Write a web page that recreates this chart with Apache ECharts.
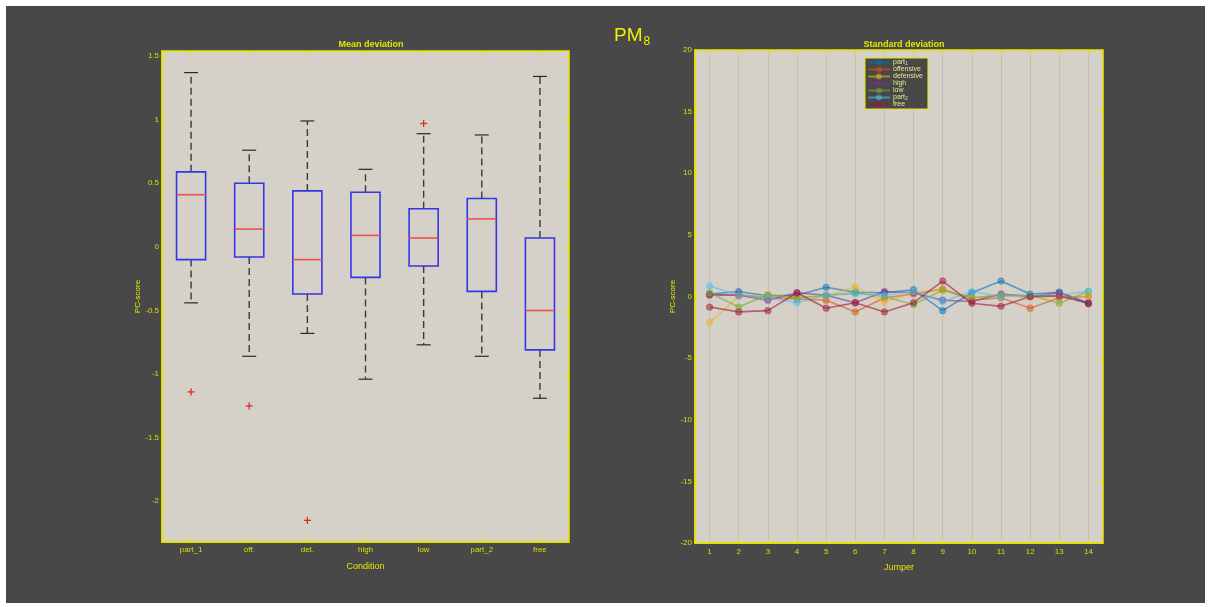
<!DOCTYPE html>
<html>
<head>
<meta charset="utf-8">
<script src="https://cdn.jsdelivr.net/npm/echarts@6/dist/echarts.min.js"></script>
<style>
html,body{margin:0;padding:0;background:#ffffff;}
#c{position:absolute;left:6px;top:6px;width:1199px;height:597px;}
</style>
</head>
<body>
<div id="c"></div>
<script>
// ---- Left panel: box plot data (Mean deviation) ----
const conditions = ['part_1', 'off.', 'det.', 'high', 'low', 'part_2', 'free'];
const whiskerLow  = [-0.44, -0.86, -0.68, -1.04, -0.77, -0.86, -1.19];
const quart1      = [-0.10, -0.08, -0.37, -0.24, -0.15, -0.35, -0.81];
const medians     = [ 0.41,  0.14, -0.10,  0.09,  0.07,  0.22, -0.50];
const quart3      = [ 0.59,  0.50,  0.44,  0.43,  0.30,  0.38,  0.07];
const whiskerHigh = [ 1.37,  0.76,  0.99,  0.61,  0.89,  0.88,  1.34];
const outlierCond = [0, 1, 2, 4];
const outlierVal  = [-1.14, -1.25, -2.15, 0.97];
const leftYTicks  = [-2, -1.5, -1, -0.5, 0, 0.5, 1, 1.5];

// ---- Right panel: standard deviation per jumper ----
const jumpers = [1,2,3,4,5,6,7,8,9,10,11,12,13,14];
const seriesNames = ['part_1','offensive','defensive','high','low','part_2','free'];
const sdPart1     = [ 0.20,  0.40,  0.05,  0.10,  0.75,  0.35,  0.30,  0.55, -1.15,  0.30,  1.25,  0.20,  0.35, -0.50];
const sdOffensive = [ 0.10,  0.15, -0.10, -0.20, -0.30, -1.25, -0.10,  0.20,  0.60, -0.30, -0.10, -0.95, -0.10,  0.00];
const sdDefensive = [-2.10,  0.00,  0.10, -0.10,  0.00,  0.80, -0.45,  0.30,  0.55, -0.10,  0.10, -0.10,  0.00,  0.00];
const sdHigh      = [ 0.15,  0.10, -0.30,  0.30,  0.10, -0.50,  0.40,  0.30, -0.30, -0.40,  0.20,  0.00,  0.30, -0.60];
const sdLow       = [ 0.30, -0.85,  0.15, -0.10,  0.10,  0.30,  0.00, -0.65,  0.50, -0.10,  0.10,  0.10, -0.55,  0.40];
const sdPart2     = [ 0.85,  0.10, -0.10, -0.50,  0.10,  0.20,  0.10,  0.40, -0.40,  0.40,  0.00,  0.10,  0.10,  0.45];
const sdFree      = [-0.85, -1.25, -1.15,  0.30, -0.95, -0.50, -1.25, -0.50,  1.25, -0.55, -0.80,  0.00,  0.05, -0.55];
const sdValues = [sdPart1, sdOffensive, sdDefensive, sdHigh, sdLow, sdPart2, sdFree];
const lineColors = ['#0072BD','#D95319','#EDB120','#7E2F8E','#77AC30','#4DBEEE','#A2142F'];

const YEL = '#e6e600';
const TXT = '#dede00';
const FONT = '"Liberation Sans", Arial, sans-serif';

const boxData = conditions.map((c, i) => [i, whiskerLow[i], quart1[i], medians[i], quart3[i], whiskerHigh[i]]);
const outData = outlierCond.map((c, i) => [c, outlierVal[i]]);

function renderBox(params, api) {
  const i = api.value(0);
  const lo = api.value(1), q1 = api.value(2), med = api.value(3), q3 = api.value(4), hi = api.value(5);
  const band = api.size([1, 0])[0];
  const hw = band * 0.25, cw = band * 0.12;
  const x = api.coord([i, med])[0];
  const y = v => api.coord([i, v])[1];
  const dash = {stroke: '#3a3a3a', lineWidth: 1.4, lineDash: [7, 4]};
  const solid = {stroke: '#2a2a2a', lineWidth: 1.2};
  return {
    type: 'group',
    children: [
      {type: 'line', shape: {x1: x, y1: y(q3), x2: x, y2: y(hi)}, style: dash},
      {type: 'line', shape: {x1: x, y1: y(q1), x2: x, y2: y(lo)}, style: dash},
      {type: 'line', shape: {x1: x - cw, y1: y(hi), x2: x + cw, y2: y(hi)}, style: solid},
      {type: 'line', shape: {x1: x - cw, y1: y(lo), x2: x + cw, y2: y(lo)}, style: solid},
      {type: 'rect', shape: {x: x - hw, y: y(q3), width: 2 * hw, height: y(q1) - y(q3)},
        style: {fill: 'none', stroke: '#3535e8', lineWidth: 1.6}},
      {type: 'line', shape: {x1: x - hw, y1: y(med), x2: x + hw, y2: y(med)},
        style: {stroke: '#ec5050', lineWidth: 1.6}}
    ]
  };
}
function renderPlus(params, api) {
  const p = api.coord([api.value(0), api.value(1)]);
  const s = 3.5;
  const st = {stroke: '#e02828', lineWidth: 1.3};
  return {type: 'group', children: [
    {type: 'line', shape: {x1: p[0] - s, y1: p[1], x2: p[0] + s, y2: p[1]}, style: st},
    {type: 'line', shape: {x1: p[0], y1: p[1] - s, x2: p[0], y2: p[1] + s}, style: st}
  ]};
}

const tickStyle = {show: true, inside: true, length: 4, lineStyle: {color: YEL, width: 1}};
const labelStyle = {color: TXT, fontSize: 8, fontFamily: FONT};
const mainLine = {show: true, onZero: false, lineStyle: {color: YEL, width: 1.5}};

const lineSeries = seriesNames.map((n, k) => ({
  name: n, type: 'line', xAxisIndex: 2, yAxisIndex: 2,
  data: jumpers.map((j, i) => [j, sdValues[k][i]]),
  symbol: 'circle', symbolSize: 6,
  lineStyle: {color: lineColors[k], width: 1.6, opacity: 0.6},
  itemStyle: {color: lineColors[k], borderColor: lineColors[k], borderWidth: 1.2, opacity: 0.45},
  emphasis: {disabled: true},
  animation: false
}));

const chart = echarts.init(document.getElementById('c'), null, {renderer: 'canvas'});
chart.setOption({
  backgroundColor: '#484848',
  animation: false,
  textStyle: {fontFamily: FONT},
  title: [
    {text: 'PM{s|8}', left: 603, top: 13,
      textStyle: {color: '#f0f000', fontSize: 19, fontWeight: 'normal', fontFamily: FONT,
        rich: {s: {fontSize: 12, color: '#f0f000', fontFamily: FONT, verticalAlign: 'bottom', padding: [12, 0, 0, 1]}}}},
    {text: 'Mean deviation', left: 360, top: 29, textAlign: 'center',
      textStyle: {color: YEL, fontSize: 9, fontWeight: 'bold', fontFamily: FONT}},
    {text: 'Standard deviation', left: 893, top: 29, textAlign: 'center',
      textStyle: {color: YEL, fontSize: 9, fontWeight: 'bold', fontFamily: FONT}}
  ],
  legend: {
    data: seriesNames,
    orient: 'vertical', left: 859, top: 52,
    backgroundColor: '#484848', borderColor: YEL, borderWidth: 1,
    padding: [1, 5, 1, 2], itemGap: 0, itemWidth: 22, itemHeight: 5,
    selectedMode: false,
    formatter: n => n === 'part_1' ? 'part{s|1}' : (n === 'part_2' ? 'part{s|2}' : n),
    textStyle: {color: '#e8e890', fontSize: 7, lineHeight: 7, fontFamily: FONT, padding: [0, 0, 0, -2],
      rich: {s: {fontSize: 5, color: '#e8e890', verticalAlign: 'bottom', padding: [3, 0, 0, 0]}}}
  },
  grid: [
    {left: 156, top: 45, width: 407, height: 491, show: true, backgroundColor: '#d5d1c9', borderColor: YEL, borderWidth: 1.5},
    {left: 689, top: 44, width: 408, height: 493, show: true, backgroundColor: '#d5d1c9', borderColor: YEL, borderWidth: 1.5}
  ],
  xAxis: [
    {type: 'category', gridIndex: 0, data: conditions, boundaryGap: true,
      name: 'Condition', nameLocation: 'middle', nameGap: 20,
      nameTextStyle: {color: YEL, fontSize: 9, fontFamily: FONT},
      axisLine: mainLine,
      axisTick: Object.assign({alignWithLabel: true}, tickStyle),
      axisLabel: Object.assign({margin: 4}, labelStyle), splitLine: {show: false}},
    {type: 'category', gridIndex: 0, data: conditions, position: 'top', boundaryGap: true,
      axisLine: {show: false, onZero: false}, axisTick: Object.assign({alignWithLabel: true}, tickStyle),
      axisLabel: {show: false}, splitLine: {show: false}},
    {type: 'value', gridIndex: 1, min: 0.5, max: 14.5,
      name: 'Jumper', nameLocation: 'middle', nameGap: 20,
      nameTextStyle: {color: YEL, fontSize: 9, fontFamily: FONT},
      axisLine: mainLine,
      axisTick: Object.assign({customValues: jumpers}, tickStyle),
      axisLabel: Object.assign({customValues: jumpers, margin: 5}, labelStyle),
      splitLine: {show: true, lineStyle: {color: '#c3c0b8', width: 1}}},
    {type: 'value', gridIndex: 1, min: 0.5, max: 14.5, position: 'top',
      axisLine: {show: false, onZero: false}, axisTick: Object.assign({customValues: jumpers}, tickStyle),
      axisLabel: {show: false}, splitLine: {show: false}}
  ],
  yAxis: [
    {type: 'value', gridIndex: 0, min: -2.32, max: 1.54,
      name: 'PC-score', nameLocation: 'middle', nameGap: 20, nameRotate: 90,
      nameTextStyle: {color: YEL, fontSize: 8, fontFamily: FONT},
      axisLine: mainLine,
      axisTick: Object.assign({customValues: leftYTicks}, tickStyle),
      axisLabel: Object.assign({customValues: leftYTicks, margin: 3}, labelStyle),
      splitLine: {show: false}},
    {type: 'value', gridIndex: 0, min: -2.32, max: 1.54, position: 'right',
      axisLine: {show: false, onZero: false}, axisTick: Object.assign({customValues: leftYTicks}, tickStyle),
      axisLabel: {show: false}, splitLine: {show: false}},
    {type: 'value', gridIndex: 1, min: -20, max: 20, interval: 5,
      name: 'PC-score', nameLocation: 'middle', nameGap: 17, nameRotate: 90,
      nameTextStyle: {color: YEL, fontSize: 8, fontFamily: FONT},
      axisLine: mainLine,
      axisTick: tickStyle,
      axisLabel: Object.assign({margin: 3}, labelStyle),
      splitLine: {show: false}},
    {type: 'value', gridIndex: 1, min: -20, max: 20, interval: 5, position: 'right',
      axisLine: {show: false, onZero: false}, axisTick: tickStyle,
      axisLabel: {show: false}, splitLine: {show: false}}
  ],
  series: [
    {type: 'custom', name: 'box', xAxisIndex: 0, yAxisIndex: 0, data: boxData,
      encode: {x: 0, y: [1, 2, 3, 4, 5]}, renderItem: renderBox, silent: true},
    {type: 'custom', name: 'outliers', xAxisIndex: 0, yAxisIndex: 0, data: outData,
      encode: {x: 0, y: 1}, renderItem: renderPlus, silent: true}
  ].concat(lineSeries)
});
</script>
</body>
</html>
